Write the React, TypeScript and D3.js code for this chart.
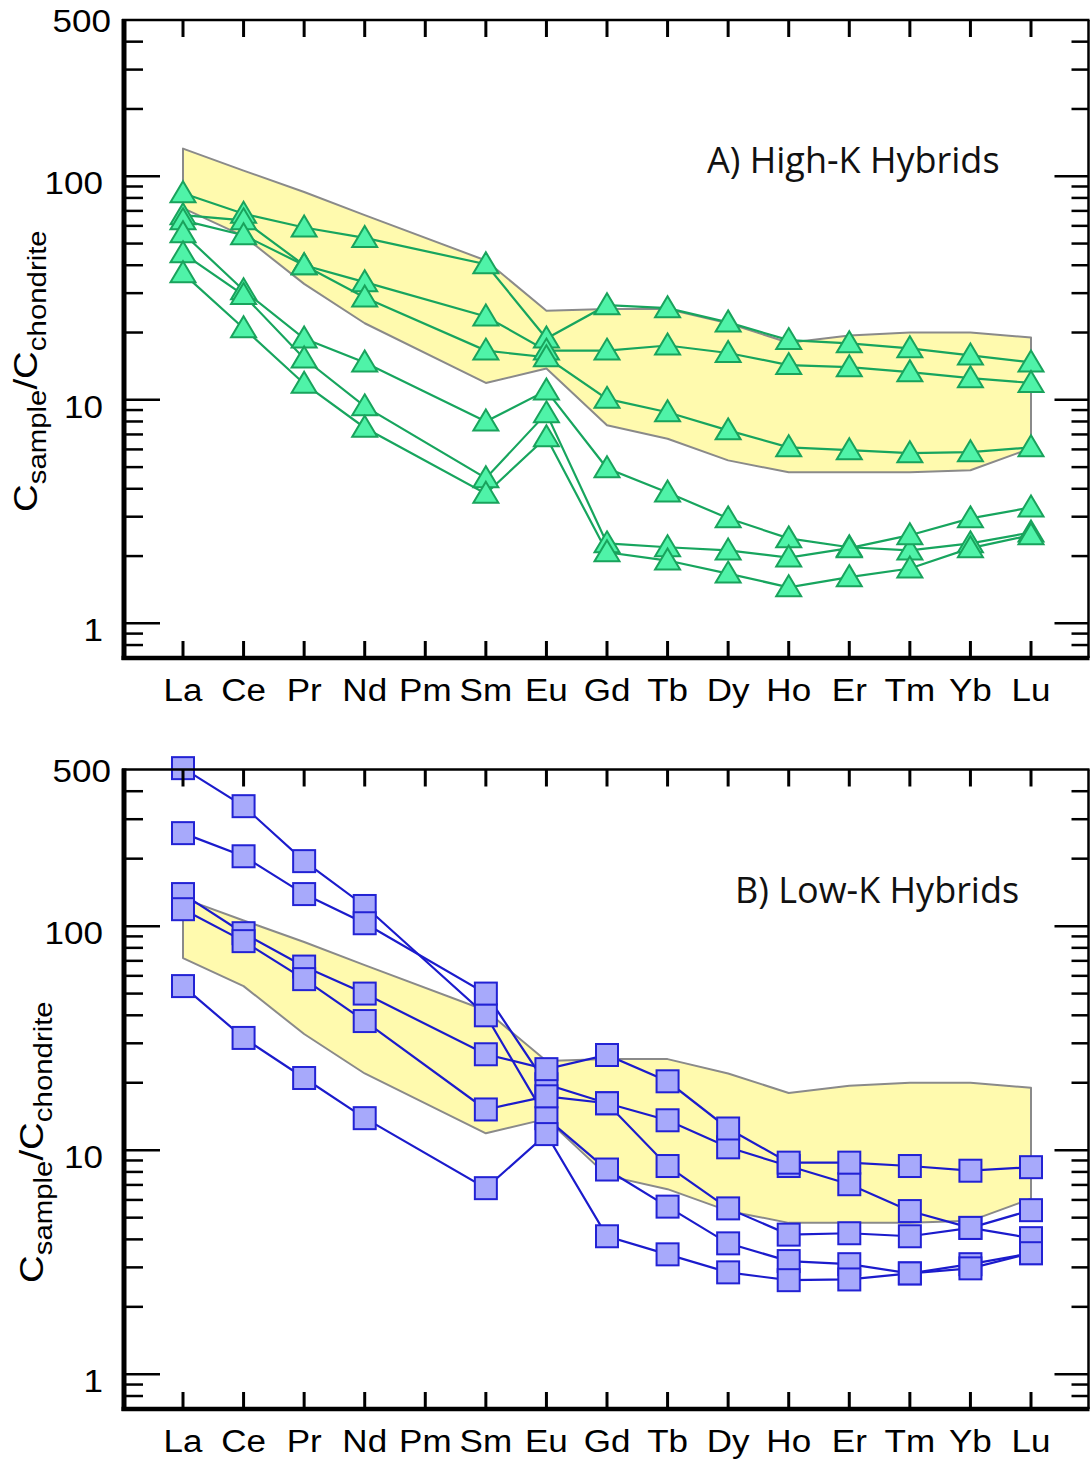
import React from 'react';
import * as d3 from 'd3';

const elements = ['La', 'Ce', 'Pr', 'Nd', 'Pm', 'Sm', 'Eu', 'Gd', 'Tb', 'Dy', 'Ho', 'Er', 'Tm', 'Yb', 'Lu'];
const yLabelValues = [500, 100, 10, 1];
const yMajorTicks = [1, 10, 100];
const yMinorTicks = [0.8, 0.9, 2, 3, 4, 5, 6, 7, 8, 9, 20, 30, 40, 50, 60, 70, 80, 90, 200, 300, 400];

// Reference field (same in both panels)
const fieldUpper = [133, 106, 85, 67, null, 42, 25, 25.5, 25.5, 22, 18, 19.4, 20, 20, 19];
const fieldLower = [72, 54, 33, 22, null, 11.9, 13.8, 7.7, 6.7, 5.36, 4.74, 4.74, 4.74, 4.84, 6.07];

// A) High-K hybrids
const highK1 = [84, 68, 59, 53, null, 40.4, 18.8, 26.5, 25.7, 22.2, 18.5, 17.9, 17, 15.8, 14.7];
const highK2 = [67, 63.5, 40, 33.6, null, 23.6, 16.6, 16.6, 17.5, 16.2, 14.3, 14, 13.3, 12.5, 11.9];
const highK3 = [63.5, 54.5, 40, 28.7, null, 16.6, 15.5, 10.1, 8.8, 7.3, 6.13, 5.95, 5.77, 5.83, 6.13];
const highK4 = [55.6, 30.9, 18.8, 14.7, null, 8.0, 11, 4.94, 3.85, 2.95, 2.4, 2.19, 2.12, 2.28, 2.55];
const highK5 = [45.2, 29.4, 15.3, 9.35, null, 4.46, 8.7, 2.28, 2.19, 2.12, 1.97, 2.17, 2.48, 2.95, 3.3];
const highK6 = [36.8, 20.9, 11.8, 7.5, null, 3.8, 6.8, 2.08, 1.91, 1.67, 1.45, 1.61, 1.76, 2.17, 2.48];

// B) Low-K hybrids
const lowK1 = [507, 343, 195, 123, null, 40, 13.9, 8.2, 5.6, 3.84, 3.2, 3.1, 2.82, 3.1, 3.47];
const lowK2 = [260, 205, 139, 103, null, 50, 19.7, 16.2, 13.6, 10.3, 8.5, 7.05, 5.35, 4.5, 4.05];
const lowK3 = [139, 93, 66, 50, null, 26.8, 23, 26.6, 20.3, 12.5, 8.8, 8.8, 8.5, 8.1, 8.4];
const lowK4 = [119, 85.7, 58, 37.7, null, 15.2, 17.4, 16.2, 8.5, 5.5, 4.2, 4.26, 4.13, 4.5, 5.4];
const lowK5 = [54, 31.7, 21, 13.9, null, 6.77, 11.8, 4.13, 3.43, 2.85, 2.63, 2.65, 2.82, 2.97, 3.47];

const highKSeries = [highK1, highK2, highK3, highK4, highK5, highK6];
const lowKSeries = [lowK1, lowK2, lowK3, lowK4, lowK5];

const W = 1090;
const H = 1462;
const FRAME_L = 124;
const FRAME_R = 1088.5;
const x = d3.scaleLinear().domain([0, elements.length - 1]).range([183, 1031]);

const AX_FONT = '"Liberation Sans", Arial, Helvetica, sans-serif';
const STRETCH = 1.13;

type P = { i: number; v: number };
const pts = (arr: (number | null)[]): P[] =>
  arr.map((v, i) => ({ i, v: v as number })).filter((d) => d.v != null);

function Panel(props: {
  top: number;
  bottom: number;
  series: (number | null)[][];
  kind: 'tri' | 'sq';
  label: string;
  lx: number;
  ly: number;
  tx: number;
  ty: number;
}) {
  const { top, bottom, series, kind, label, lx, ly, tx, ty } = props;
  const y = d3.scaleLog().domain([0.7, 500]).range([bottom, top]);
  const line = d3
    .line<P>()
    .x((d) => x(d.i))
    .y((d) => y(d.v));
  const fieldPath = line([...pts(fieldUpper), ...pts(fieldLower).reverse()]) + 'Z';

  const lineColor = kind === 'tri' ? '#17a55e' : '#1b1bcc';
  const fill = kind === 'tri' ? '#4ff3a8' : '#a7a9fb';
  const stroke = kind === 'tri' ? '#19a35c' : '#2222d4';

  const marker = (d: P, k: string) => {
    const cx = x(d.i);
    const cy = y(d.v);
    if (kind === 'tri') {
      const p = d3.path();
      p.moveTo(cx, cy - 12);
      p.lineTo(cx + 12.5, cy + 9);
      p.lineTo(cx - 12.5, cy + 9);
      p.closePath();
      return <path key={k} d={p.toString()} fill={fill} stroke={stroke} strokeWidth={2} strokeLinejoin="miter" />;
    }
    return <rect key={k} x={cx - 11} y={cy - 11} width={22} height={22} fill={fill} stroke={stroke} strokeWidth={2} />;
  };

  return (
    <g>
      {/* reference field */}
      <path d={fieldPath} fill="#fffaae" stroke="#8a8a8a" strokeWidth={2} strokeLinejoin="round" />
      {/* series lines */}
      {series.map((s, si) => (
        <path key={'l' + si} d={line(pts(s)) || ''} fill="none" stroke={lineColor} strokeWidth={2.2} />
      ))}
      {/* markers */}
      {series.map((s, si) => pts(s).map((d, di) => marker(d, `m${si}-${di}`)))}

      {/* frame */}
      <line x1={FRAME_L - 2} x2={FRAME_R + 1} y1={top} y2={top} stroke="#000" strokeWidth={2.5} />
      <line x1={FRAME_R} x2={FRAME_R} y1={top} y2={bottom} stroke="#000" strokeWidth={2.5} />
      <line x1={FRAME_L - 2.5} x2={FRAME_R + 1} y1={bottom} y2={bottom} stroke="#000" strokeWidth={4.5} />
      <line x1={FRAME_L} x2={FRAME_L} y1={top - 1} y2={bottom + 2} stroke="#000" strokeWidth={5} />

      {/* x ticks top & bottom */}
      {elements.map((e, i) => (
        <g key={'xt' + e}>
          <line x1={x(i)} x2={x(i)} y1={top} y2={top + 17} stroke="#000" strokeWidth={3} />
          <line x1={x(i)} x2={x(i)} y1={bottom} y2={bottom - 17} stroke="#000" strokeWidth={3} />
          <text
            transform={`translate(${x(i)},${bottom + 43}) scale(${STRETCH},1)`}
            textAnchor="middle"
            fontFamily={AX_FONT}
            fontSize={31}
            fill="#000"
          >
            {e}
          </text>
        </g>
      ))}

      {/* y ticks */}
      {yMinorTicks.map((v) => (
        <g key={'ymn' + v}>
          <line x1={FRAME_L} x2={FRAME_L + 19} y1={y(v)} y2={y(v)} stroke="#000" strokeWidth={2.5} />
          <line x1={FRAME_R} x2={FRAME_R - 17} y1={y(v)} y2={y(v)} stroke="#000" strokeWidth={2.5} />
        </g>
      ))}
      {yMajorTicks.map((v) => (
        <g key={'ymj' + v}>
          <line x1={FRAME_L} x2={FRAME_L + 36} y1={y(v)} y2={y(v)} stroke="#000" strokeWidth={2.5} />
          <line x1={FRAME_R} x2={FRAME_R - 34} y1={y(v)} y2={y(v)} stroke="#000" strokeWidth={2.5} />
        </g>
      ))}
      {yLabelValues.map((v) => {
        const isTop = v === 500;
        const tyy = y(v) + (isTop ? 12 : 18);
        const txx = isTop ? 111 : 103;
        return (
          <text
            key={'yl' + v}
            transform={`translate(${txx},${tyy}) scale(${STRETCH},1)`}
            textAnchor="end"
            fontFamily={AX_FONT}
            fontSize={31}
            fill="#000"
          >
            {String(v)}
          </text>
        );
      })}

      {/* y axis title */}
      <text
        transform={`translate(${tx},${ty}) rotate(-90) scale(${STRETCH},1)`}
        fontFamily={AX_FONT}
        fontSize={34}
        fill="#000"
      >
        <tspan>C</tspan>
        <tspan fontSize={26} dy={9}>sample</tspan>
        <tspan dy={-9}>/C</tspan>
        <tspan fontSize={26} dy={9}>chondrite</tspan>
      </text>

      {/* panel label */}
      <text x={lx} y={ly} fontFamily='"Open Sans", sans-serif' fontSize={36} fill="#111">
        {label}
      </text>
    </g>
  );
}

export default function App() {
  return (
    <svg
      width={W}
      height={H}
      viewBox={`0 0 ${W} ${H}`}
      style={{ position: 'absolute', left: 0, top: 0, display: 'block', background: '#fff' }}
    >
      <rect x={0} y={0} width={W} height={H} fill="#fff" />
      <Panel top={20} bottom={658} series={highKSeries} kind="tri" label="A) High-K Hybrids" lx={707} ly={173} tx={37} ty={512} />
      <Panel top={769.5} bottom={1409} series={lowKSeries} kind="sq" label="B) Low-K Hybrids" lx={735} ly={903} tx={43} ty={1283} />
    </svg>
  );
}
